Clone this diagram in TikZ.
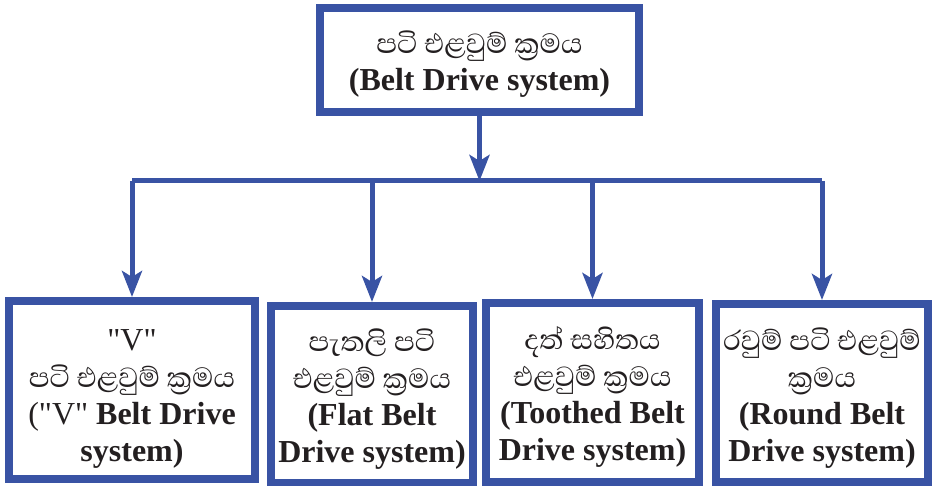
\documentclass[tikz,border=0pt]{standalone}
\usepackage{fontspec}
\setmainfont{Liberation Serif}[Ligatures=TeXOff]
\newfontfamily\sinhalafont[Script=Sinhala, Scale=1.11]{Abhaya Libre}
\usetikzlibrary{arrows.meta}
\definecolor{beltblue}{HTML}{3953A4}
\definecolor{ink}{HTML}{231F20}
\newcommand{\linetop}[1]{\rule{0pt}{#1}}
\begin{document}
\begin{tikzpicture}[x=0.5pt, y=-0.5pt, font=\fontsize{16}{18.5}\selectfont, text=ink,
    box/.style={draw=beltblue, line width=4pt, fill=white, align=center, inner sep=0pt},
    link/.style={draw=beltblue, line width=2.5pt},
    arr/.style={link, -{Stealth[length=13pt, width=10pt, inset=3pt]}}]
    \useasboundingbox (0,0) rectangle (932,486);
        \node[box, minimum width=159.5pt, minimum height=52pt] (belt) at (479.5,60) {\linetop{15pt}{\sinhalafont පටි එළවුම් ක්^^^^200dරමය}\\\textbf{(Belt Drive system)}};
        \node[box, minimum width=123pt, minimum height=89pt] (v) at (132,390) {\linetop{19.5pt}"V"\\{\sinhalafont පටි එළවුම් ක්^^^^200dරමය}\\("V" \textbf{Belt Drive}\\\textbf{system)}};
        \node[box, minimum width=101pt, minimum height=88.5pt] (flat) at (372,394.5) {\linetop{16pt}{\sinhalafont පැතලි පටි}\\{\sinhalafont එළවුම් ක්^^^^200dරමය}\\\textbf{(Flat Belt}\\\textbf{Drive system)}};
        \node[box, minimum width=106.5pt, minimum height=89.5pt] (tooth) at (592.5,392.5) {\linetop{16pt}{\sinhalafont දත් සහිතය}\\{\sinhalafont එළවුම් ක්^^^^200dරමය}\\\textbf{(Toothed Belt}\\\textbf{Drive system)}};
        \node[box, minimum width=106pt, minimum height=89pt] (round) at (822,393) {\linetop{16pt}{\sinhalafont රවුම් පටි එළවුම්}\\{\sinhalafont ක්^^^^200dරමය}\\\textbf{(Round Belt}\\\textbf{Drive system)}};
        \coordinate (bus) at (0,181);
        \draw[arr] (belt.south) -- (belt.south |- bus);
        \draw[link] (v.north |- bus) -- (round.north |- bus);
        \foreach \n in {v,flat,tooth,round}{\draw[arr] (\n.north |- bus) -- (\n.north);}
    \end{tikzpicture}
\end{document}
